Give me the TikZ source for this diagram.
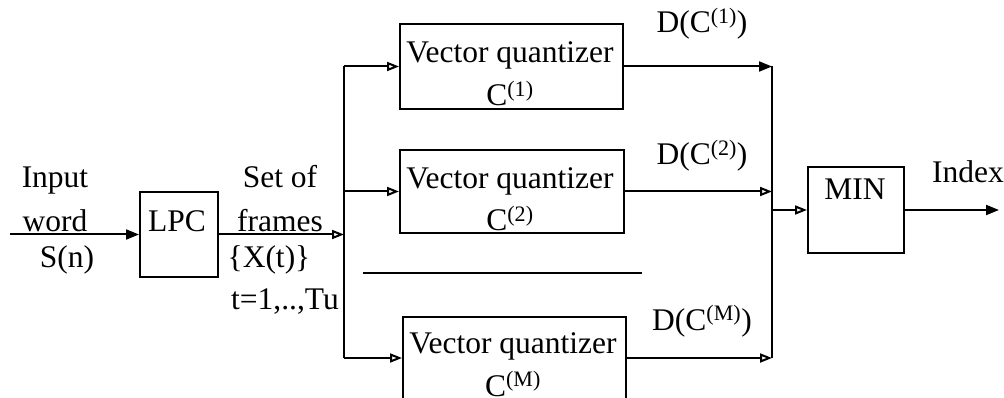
\documentclass[tikz,border=0pt]{standalone}
\usepackage{fontspec}
\setmainfont{Liberation Serif}
\usetikzlibrary{arrows.meta}
\begin{document}
\begin{tikzpicture}[x=1pt,y=-1pt, line width=2pt,
  box/.style={draw, rectangle, inner sep=0pt},
  lbl/.style={anchor=base, inner sep=0pt, font=\fontsize{31.5}{36}\selectfont},
  fa/.style={-{Triangle[length=13pt,width=10pt]}},
  oa/.style={-{Triangle[open,length=12pt,width=9pt]}}]
\useasboundingbox (0,0) rectangle (1004,398);
% boxes
\node[box, minimum width=78pt, minimum height=85pt] (lpc) at (179,234.5) {};
\node[box, minimum width=223pt, minimum height=85pt] (vq1) at (511.5,66.5) {};
\node[box, minimum width=224pt, minimum height=83pt] (vq2) at (512,191.5) {};
\node[box, minimum width=223pt, minimum height=82pt] (vq3) at (514.5,358) {};
\node[box, minimum width=96pt, minimum height=86pt] (min) at (856,210) {};
% texts
\node[lbl] (tlpc) at (177,232) {LPC};
\node[lbl] (tv1) at (510,63) {Vector quantizer};
\node[lbl] (tc1) at (510,106) {C\textsuperscript{(1)}};
\node[lbl] (tv2) at (510,189) {Vector quantizer};
\node[lbl] (tc2) at (510,231) {C\textsuperscript{(2)}};
\node[lbl] (tv3) at (513,353) {Vector quantizer};
\node[lbl] (tc3) at (513,396) {C\textsuperscript{(M)}};
\node[lbl] (tmin) at (855,200) {MIN};
\node[lbl] (tin1) at (55,188) {Input};
\node[lbl] (tin2) at (55,232) {word};
\node[lbl] (tin3) at (67,267) {S(n)};
\node[lbl] (tf1) at (280,188) {Set of};
\node[lbl] (tf2) at (280,232) {frames};
\node[lbl] (tf3) at (269,267) {\{X(t)\}};
\node[lbl] (tf4) at (285,309) {t=1,..,Tu};
\node[lbl] (td1) at (702,33) {D(C\textsuperscript{(1)})};
\node[lbl] (td2) at (702,165) {D(C\textsuperscript{(2)})};
\node[lbl] (td3) at (702,330) {D(C\textsuperscript{(M)})};
\node[lbl] (tidx) at (968,183) {Index};
% separator
\coordinate (s1) at (363,273);
\coordinate (s2) at (642,273);
\draw (s1) -- (s2);
% connectors
\coordinate (in) at (10,234.5);
\coordinate (bus0) at (344,234.5);
\coordinate (bus1) at (344,66.5);
\coordinate (bus2) at (344,191.5);
\coordinate (bus3) at (344,358);
\coordinate (col1) at (772,66.5);
\coordinate (col2) at (772,191.5);
\coordinate (col3) at (772,358);
\coordinate (colm) at (772,210);
\coordinate (out) at (999,210);
\draw[fa] (in) -- (lpc.west);
\draw[oa] (lpc.east) -- (bus0);
\draw (bus1) -- (bus3);
\draw[oa] (bus1) -- (vq1.west);
\draw[oa] (bus2) -- (vq2.west);
\draw[oa] (bus3) -- (vq3.west);
\draw[fa] (vq1.east) -- (col1);
\draw[oa] (vq2.east) -- (col2);
\draw[oa] (vq3.east) -- (col3);
\draw (col1) -- (col3);
\draw[oa] (colm) -- (min.west);
\draw[fa] (min.east) -- (out);
\end{tikzpicture}
\end{document}
